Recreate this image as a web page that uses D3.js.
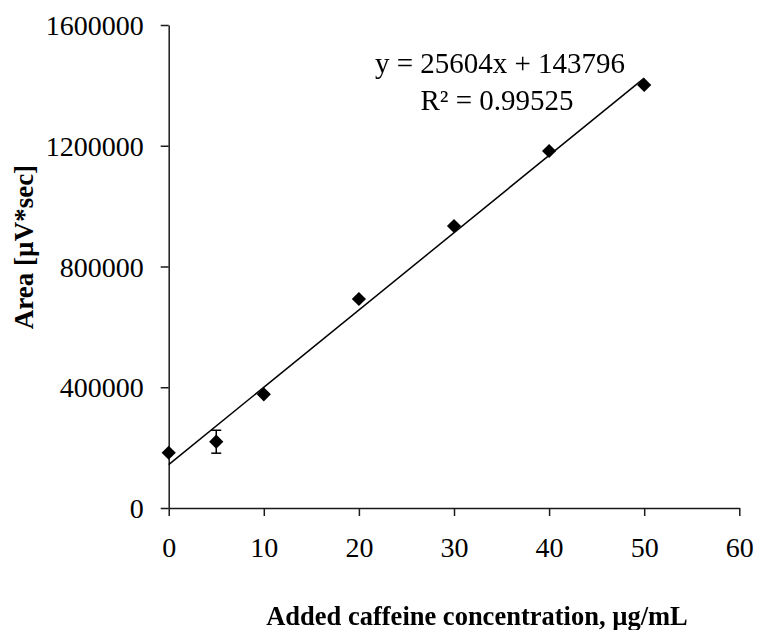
<!DOCTYPE html>
<html>
<head>
<meta charset="utf-8">
<script src="https://cdn.jsdelivr.net/npm/d3@7"></script>
<style>
  html, body { margin: 0; padding: 0; background: #fff; }
  svg { display: block; }
  .tick text { font-family: "Liberation Serif", "Times New Roman", serif; font-size: 28px; fill: #000; }
</style>
</head>
<body>
<div id="chart"></div>
<script>
// Caffeine standard-addition calibration data
const concentrations = [0, 5, 10, 20, 30, 40, 50];           // µg/mL added
const areas = [183000, 219600, 376700, 692300, 934200, 1182600, 1401200]; // µV*sec
const areaErrors = [0, 38000, 0, 0, 0, 0, 0];
const xTickValues = [0, 10, 20, 30, 40, 50, 60];
const yTickValues = [0, 400000, 800000, 1200000, 1600000];

// Linear fit reported on the chart
const fitSlope = 25604;
const fitIntercept = 143796;
const fitR2 = 0.99525;

const width = 759, height = 630;
const margin = { left: 168.7, right: 19.7, top: 25, bottom: 122 };

const svg = d3.select("#chart").append("svg")
  .attr("width", width).attr("height", height);

svg.append("rect").attr("width", width).attr("height", height).attr("fill", "#fff");

const defs = svg.append("defs");
defs.append("filter").attr("id", "soft")
  .attr("x", "-50%").attr("y", "-50%").attr("width", "200%").attr("height", "200%")
  .append("feGaussianBlur").attr("stdDeviation", 0.6);

const x = d3.scaleLinear().domain([0, 60]).range([margin.left, width - margin.right]);
const y = d3.scaleLinear().domain([0, 1600000]).range([height - margin.bottom, margin.top]);

const axisColor = "#1a1a1a";

// X axis
const gx = svg.append("g")
  .attr("transform", `translate(0,${y(0)})`)
  .call(d3.axisBottom(x).tickValues(xTickValues).tickSize(8).tickSizeOuter(0).tickPadding(21).tickFormat(d3.format("d")));

// Y axis
const gy = svg.append("g")
  .attr("transform", `translate(${x(0)},0)`)
  .call(d3.axisLeft(y).tickValues(yTickValues).tickSize(8).tickSizeOuter(0).tickPadding(17).tickFormat(d3.format("d")));

[gx, gy].forEach(g => {
  g.select(".domain").attr("stroke", axisColor).attr("stroke-width", 1.5);
  g.selectAll(".tick line").attr("stroke", axisColor).attr("stroke-width", 1.5);
});
gy.selectAll(".tick text").attr("dy", "0.34em");

// Trendline from the fitted equation over the data range
const xMin = d3.min(concentrations), xMax = d3.max(concentrations);
svg.append("line")
  .attr("x1", x(xMin)).attr("y1", y(fitSlope * xMin + fitIntercept))
  .attr("x2", x(xMax)).attr("y2", y(fitSlope * xMax + fitIntercept))
  .attr("stroke", "#000").attr("stroke-width", 1.5);

const points = concentrations.map((c, i) => ({ c, a: areas[i], e: areaErrors[i] }));

// Error bars
const eb = svg.append("g").attr("stroke", "#000").attr("stroke-width", 1.5);
points.filter(d => d.e > 0).forEach(d => {
  eb.append("line").attr("x1", x(d.c)).attr("x2", x(d.c)).attr("y1", y(d.a - d.e)).attr("y2", y(d.a + d.e));
  eb.append("line").attr("x1", x(d.c) - 5).attr("x2", x(d.c) + 5).attr("y1", y(d.a - d.e)).attr("y2", y(d.a - d.e));
  eb.append("line").attr("x1", x(d.c) - 5).attr("x2", x(d.c) + 5).attr("y1", y(d.a + d.e)).attr("y2", y(d.a + d.e));
});

// Diamond markers
const r = 7.1;
svg.append("g").attr("filter", "url(#soft)")
  .selectAll("path").data(points).join("path")
  .attr("d", `M0,${-r}L${r},0L0,${r}L${-r},0Z`)
  .attr("transform", d => `translate(${x(d.c)},${y(d.a)})`)
  .attr("fill", "#000");

// Fit equation
const eq = svg.append("text")
  .attr("font-family", "Liberation Serif, Times New Roman, serif")
  .attr("font-size", 29).attr("text-anchor", "middle").attr("fill", "#000");
eq.append("tspan").attr("x", 500).attr("y", 73)
  .text(`y = ${fitSlope}x + ${fitIntercept}`);
eq.append("tspan").attr("x", 497).attr("y", 110)
  .text(`R² = ${fitR2}`);

// Axis titles
svg.append("text")
  .attr("x", 477).attr("y", 625)
  .attr("text-anchor", "middle")
  .attr("font-family", "Liberation Serif, Times New Roman, serif")
  .attr("font-weight", "bold").attr("font-size", 26.5)
  .text("Added caffeine concentration, µg/mL");

svg.append("text")
  .attr("transform", "translate(33,247) rotate(-90)")
  .attr("text-anchor", "middle")
  .attr("font-family", "Liberation Serif, Times New Roman, serif")
  .attr("font-weight", "bold").attr("font-size", 27)
  .text("Area [µV*sec]");
</script>
</body>
</html>
